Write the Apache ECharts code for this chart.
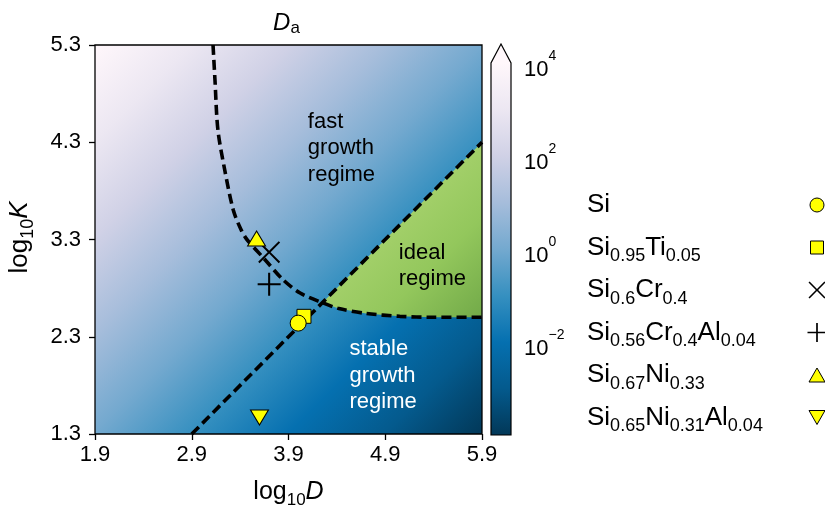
<!DOCTYPE html>
<html>
<head>
<meta charset="utf-8">
<script src="https://cdn.jsdelivr.net/npm/echarts@6/dist/echarts.min.js"></script>
<style>
  html, body { margin: 0; padding: 0; background: #fff; }
  #chart { width: 825px; height: 505px; }
</style>
</head>
<body>
<div id="chart"></div>
<script>
// ---- axes -------------------------------------------------------------
const dRange = [1.9, 5.9];
const kRange = [1.3, 5.3];
const logDTicks = [1.9, 2.9, 3.9, 4.9, 5.9];
const logKTicks = [1.3, 2.3, 3.3, 4.3, 5.3];

// ---- colour bar (log10 Da) --------------------------------------------
const cbarRange = [-4, 4];
const cbarExponents = [-2, 0, 2, 4];
// log10 Da at the top-left and bottom-right corners of the map
const fieldCorners = [4, -4];
// PuBu ramp, light (high Da) to dark (low Da)
const puBu = ['#fff7fb', '#ece7f2', '#d0d1e6', '#a6bddb', '#74a9cf',
              '#3690c0', '#0570b0', '#045a8d', '#023858'];
// shading of the ideal regime along the same diagonal
const idealShade = ['#a9d36f', '#93c75c', '#6aa344'];

// ---- regime boundaries --------------------------------------------------
const stabilityD = [2.9, 5.9];
const stabilityK = [1.3, 4.3];
const growthD = [3.12, 3.14, 3.17, 3.24, 3.33, 3.41, 3.47, 3.66, 3.84, 4.02, 4.25, 4.42, 4.70, 5.05, 5.39, 5.90];
const growthK = [5.30, 4.94, 4.43, 4.02, 3.60, 3.40, 3.30, 3.09, 2.89, 2.75, 2.65, 2.59, 2.54, 2.51, 2.50, 2.50];

// ---- materials ----------------------------------------------------------
const materialNames = ['Si', 'Si0.95Ti0.05', 'Si0.6Cr0.4', 'Si0.56Cr0.4Al0.04', 'Si0.67Ni0.33', 'Si0.65Ni0.31Al0.04'];
const materialD = [4.00, 4.06, 3.70, 3.70, 3.57, 3.60];
const materialK = [2.44, 2.51, 3.17, 2.84, 3.31, 1.47];

// ---- regime captions ----------------------------------------------------
const regimeText = ['fast\ngrowth\nregime', 'ideal\nregime', 'stable\ngrowth\nregime'];
const regimeD = [4.10, 5.04, 4.53];
const regimeK = [4.65, 3.30, 2.31];
const regimeColor = ['#000', '#000', '#fff'];

const FONT = '"Liberation Sans", Arial, Helvetica, sans-serif';

// marker outlines in a 20-unit box
const SHAPE_X = [[1.3, 0], [10, 8.7], [18.7, 0], [20, 1.3], [11.3, 10], [20, 18.7], [18.7, 20], [10, 11.3],
                 [1.3, 20], [0, 18.7], [8.7, 10], [0, 1.3]];
const SHAPE_PLUS = [[9.1, 0], [10.9, 0], [10.9, 9.1], [20, 9.1], [20, 10.9], [10.9, 10.9], [10.9, 20], [9.1, 20],
                    [9.1, 10.9], [0, 10.9], [0, 9.1], [9.1, 9.1]];
const SHAPE_UP = [[10, 0], [20, 16], [0, 16]];
const SHAPE_DOWN = [[0, 0], [20, 0], [10, 16]];

function toPath(pts) {
  return 'path://M' + pts.map(function (p) { return p[0] + ',' + p[1]; }).join('L') + 'Z';
}

const markerStyles = [
  { symbol: 'circle', size: 16, key: 14, fill: '#ffff00', z: 6 },
  { symbol: 'rect', size: 14, key: 13, fill: '#ffff00', z: 5 },
  { shape: SHAPE_X, size: 22, key: 17, fill: '#000', z: 5, noBorder: true },
  { shape: SHAPE_PLUS, size: 23, key: 19, fill: '#000', z: 5, noBorder: true },
  { shape: SHAPE_UP, size: [18, 15], key: [16, 14], fill: '#ffff00', z: 5 },
  { shape: SHAPE_DOWN, size: [18, 15], key: [16, 14], fill: '#ffff00', z: 5 }
];

// key layout (pixels)
const keyTextX = 587, keyIconX = 817, keyTop = 205, keyStep = 42.5;

// chemical formula -> rich text with subscripts
function toRich(name) {
  return name.replace(/([A-Z][a-z]?)([\d.]*)/g, function (m, el, num) {
    return '{n|' + el + '}' + (num ? '{s|' + num + '}' : '');
  });
}

// colour ramp from low to high value
const rampLowToHigh = puBu.slice().reverse();

function fieldStops() {
  const vTL = fieldCorners[0], vBR = fieldCorners[1];
  const n = rampLowToHigh.length;
  const stops = rampLowToHigh.map(function (c, i) {
    const v = cbarRange[0] + (cbarRange[1] - cbarRange[0]) * i / (n - 1);
    let off = (vTL - v) / (vTL - vBR);
    off = Math.max(0, Math.min(1, off));
    return { offset: off, color: c };
  });
  stops.sort(function (a, b) { return a.offset - b.offset; });
  return stops;
}

function cbarGradient() {
  const n = rampLowToHigh.length;
  return new echarts.graphic.LinearGradient(0, 1, 0, 0, rampLowToHigh.map(function (c, i) {
    return { offset: i / (n - 1), color: c };
  }));
}

// linear interpolation along the stability line
function stabilityAt(d) {
  const t = (d - stabilityD[0]) / (stabilityD[1] - stabilityD[0]);
  return stabilityK[0] + t * (stabilityK[1] - stabilityK[0]);
}

// polygon enclosing the ideal regime
function idealPolygon() {
  let cross = null, idx = 0;
  for (let i = 0; i < growthD.length - 1; i++) {
    const f0 = growthK[i] - stabilityAt(growthD[i]);
    const f1 = growthK[i + 1] - stabilityAt(growthD[i + 1]);
    if (f0 >= 0 && f1 < 0) {
      const t = f0 / (f0 - f1);
      const d = growthD[i] + t * (growthD[i + 1] - growthD[i]);
      cross = [d, growthK[i] + t * (growthK[i + 1] - growthK[i])];
      idx = i + 1;
      break;
    }
  }
  const pts = [cross, [stabilityD[1], stabilityK[1]]];
  for (let j = growthD.length - 1; j >= idx; j--) pts.push([growthD[j], growthK[j]]);
  return pts;
}

const dashStyle = { color: '#000', width: 3.6, type: [10, 5], cap: 'butt' };

function mapCorners(api) {
  return [api.coord([dRange[0], kRange[1]]), api.coord([dRange[1], kRange[0]])];
}

const series = [
  {
    type: 'custom', xAxisIndex: 0, yAxisIndex: 0, silent: true, z: 1,
    data: [[dRange[0], kRange[0]]],
    renderItem: function (params, api) {
      const c = mapCorners(api);
      return {
        type: 'rect',
        shape: { x: c[0][0], y: c[0][1], width: c[1][0] - c[0][0], height: c[1][1] - c[0][1] },
        style: { fill: new echarts.graphic.LinearGradient(0, 0, 1, 1, fieldStops()) }
      };
    }
  },
  {
    type: 'custom', xAxisIndex: 0, yAxisIndex: 0, silent: true, z: 2,
    data: [[dRange[0], kRange[0]]],
    renderItem: function (params, api) {
      const c = mapCorners(api);
      const grad = new echarts.graphic.LinearGradient(c[0][0], c[0][1], c[1][0], c[1][1], [
        { offset: 0.58, color: idealShade[0] },
        { offset: 0.72, color: idealShade[1] },
        { offset: 0.88, color: idealShade[2] }
      ], true);
      return {
        type: 'polygon',
        shape: { points: idealPolygon().map(function (p) { return api.coord(p); }) },
        style: { fill: grad }
      };
    }
  },
  {
    type: 'line', xAxisIndex: 0, yAxisIndex: 0, silent: true, z: 3,
    data: stabilityD.map(function (d, i) { return [d, stabilityK[i]]; }),
    symbol: 'none', lineStyle: dashStyle
  },
  {
    type: 'line', xAxisIndex: 0, yAxisIndex: 0, silent: true, z: 3,
    data: growthD.map(function (d, i) { return [d, growthK[i]]; }),
    symbol: 'none', smooth: 0.3, lineStyle: dashStyle
  }
];

materialNames.forEach(function (name, i) {
  const m = markerStyles[i];
  series.push({
    type: 'scatter', name: name, xAxisIndex: 0, yAxisIndex: 0, z: m.z,
    data: [[materialD[i], materialK[i]]],
    symbol: m.shape ? toPath(m.shape) : m.symbol, symbolSize: m.size,
    itemStyle: { color: m.fill, borderColor: '#000', borderWidth: m.noBorder ? 0 : 1, opacity: 1 },
    emphasis: { disabled: true }
  });
});

// colour bar with an extension triangle on top
series.push({
  type: 'custom', xAxisIndex: 1, yAxisIndex: 1, silent: true, clip: false, z: 2,
  data: [[0, cbarRange[0]]],
  renderItem: function (params, api) {
    const tl = api.coord([0, cbarRange[1]]);
    const br = api.coord([1, cbarRange[0]]);
    const apexH = 19;
    const apex = [(tl[0] + br[0]) / 2, tl[1] - apexH];
    return {
      type: 'group',
      children: [
        { type: 'rect', shape: { x: tl[0], y: tl[1], width: br[0] - tl[0], height: br[1] - tl[1] },
          style: { fill: cbarGradient() } },
        { type: 'polygon', shape: { points: [[tl[0], tl[1]], apex, [br[0], tl[1]]] },
          style: { fill: puBu[0] } },
        { type: 'polygon', shape: { points: [[tl[0], br[1]], [tl[0], tl[1]], apex, [br[0], tl[1]], [br[0], br[1]]] },
          style: { fill: 'none', stroke: '#000', lineWidth: 1.2 } }
      ]
    };
  }
});

// frame around the map
series.push({
  type: 'custom', xAxisIndex: 0, yAxisIndex: 0, silent: true, z: 10,
  data: [[dRange[0], kRange[0]]],
  renderItem: function (params, api) {
    const c = mapCorners(api);
    return {
      type: 'rect',
      shape: { x: c[0][0], y: c[0][1], width: c[1][0] - c[0][0], height: c[1][1] - c[0][1] },
      style: { fill: 'none', stroke: '#000', lineWidth: 1.3 }
    };
  }
});

function nameRich(size, sub) {
  return {
    t: { fontFamily: FONT, fontSize: size, lineHeight: size + 4, verticalAlign: 'top', color: '#000' },
    s: { fontFamily: FONT, fontSize: sub, verticalAlign: 'bottom', color: '#000' },
    i: { fontFamily: FONT, fontSize: size, lineHeight: size + 4, verticalAlign: 'top', fontStyle: 'italic', color: '#000' }
  };
}

const tickStyle = { color: '#000', width: 1.3 };

const option = {
  animation: false,
  backgroundColor: '#fff',
  textStyle: { fontFamily: FONT },
  grid: [
    { left: 95, top: 45, width: 387, height: 389, containLabel: false, outerBoundsMode: 'none' },
    { left: 491, top: 63, width: 20, height: 372, containLabel: false, outerBoundsMode: 'none' }
  ],
  xAxis: [
    {
      gridIndex: 0, type: 'value', min: dRange[0], max: dRange[1],
      axisLine: { show: false }, splitLine: { show: false },
      axisTick: { show: true, customValues: logDTicks, length: 6, lineStyle: tickStyle },
      axisLabel: { customValues: logDTicks, formatter: function (v) { return v.toFixed(1); },
                   color: '#000', fontSize: 22, margin: 10 },
      name: '{t|log}{s|10}{i|D}', nameLocation: 'middle', nameGap: 46,
      nameTextStyle: { rich: nameRich(25, 17) }
    },
    { gridIndex: 1, type: 'value', min: 0, max: 1, show: false }
  ],
  yAxis: [
    {
      gridIndex: 0, type: 'value', min: kRange[0], max: kRange[1],
      axisLine: { show: false }, splitLine: { show: false },
      axisTick: { show: true, customValues: logKTicks, length: 6, lineStyle: tickStyle },
      axisLabel: { customValues: logKTicks, formatter: function (v) { return v.toFixed(1); },
                   color: '#000', fontSize: 22, margin: 14 },
      name: '{t|log}{s|10}{i|K}', nameLocation: 'middle', nameGap: 58, nameRotate: 90,
      nameTextStyle: { rich: nameRich(26, 18), padding: [0, 0, 0, 4] }
    },
    {
      gridIndex: 1, type: 'value', min: cbarRange[0], max: cbarRange[1], position: 'right',
      axisLine: { show: false }, splitLine: { show: false },
      axisTick: { show: true, customValues: cbarExponents, length: 5, lineStyle: tickStyle },
      axisLabel: {
        customValues: cbarExponents, margin: 13, color: '#000', padding: [4, 0, 0, 0],
        formatter: function (v) { return '{b|10}{e|' + String(v).replace('-', '\u2212') + '}'; },
        rich: {
          b: { fontFamily: FONT, fontSize: 22, lineHeight: 31, verticalAlign: 'bottom', color: '#000' },
          e: { fontFamily: FONT, fontSize: 14, verticalAlign: 'top', color: '#000' }
        }
      }
    }
  ],
  series: series
};

const chart = echarts.init(document.getElementById('chart'), null, { renderer: 'canvas' });
chart.setOption(option);

// captions, title and key, anchored after layout
const toPx = function (p) { return chart.convertToPixel({ xAxisIndex: 0, yAxisIndex: 0 }, p); };
const graphics = regimeText.map(function (txt, i) {
  const p = toPx([regimeD[i], regimeK[i]]);
  return {
    type: 'text', x: p[0], y: p[1], z: 20, silent: true,
    style: { text: txt, fill: regimeColor[i], fontFamily: FONT, fontSize: 22,
             lineHeight: 26.5, align: 'left', verticalAlign: 'top' }
  };
});
const mid = toPx([(dRange[0] + dRange[1]) / 2, kRange[1]]);
graphics.push({
  type: 'text', x: mid[0] - 2, y: 11, z: 20, silent: true,
  style: {
    text: '{i|D}{s|a}', align: 'center', verticalAlign: 'top',
    rich: {
      i: { fontFamily: FONT, fontSize: 24, lineHeight: 26, verticalAlign: 'top', fontStyle: 'italic', fill: '#000' },
      s: { fontFamily: FONT, fontSize: 17, verticalAlign: 'bottom', fill: '#000' }
    }
  }
});

function keyIcon(m, cx, cy) {
  const sz = Array.isArray(m.key) ? m.key : [m.key, m.key];
  const style = { fill: m.fill, stroke: m.noBorder ? null : '#000', lineWidth: m.noBorder ? 0 : 1 };
  const x0 = cx - sz[0] / 2, y0 = cy - sz[1] / 2;
  if (m.symbol === 'circle') {
    return { type: 'circle', shape: { cx: cx, cy: cy, r: sz[0] / 2 }, style: style, silent: true, z: 20 };
  }
  if (m.symbol === 'rect') {
    return { type: 'rect', shape: { x: x0, y: y0, width: sz[0], height: sz[1] }, style: style, silent: true, z: 20 };
  }
  const maxX = Math.max.apply(null, m.shape.map(function (p) { return p[0]; }));
  const maxY = Math.max.apply(null, m.shape.map(function (p) { return p[1]; }));
  return {
    type: 'polygon', silent: true, z: 20,
    shape: { points: m.shape.map(function (p) { return [x0 + p[0] / maxX * sz[0], y0 + p[1] / maxY * sz[1]]; }) },
    style: style
  };
}

materialNames.forEach(function (name, i) {
  const cy = keyTop + keyStep * i;
  graphics.push({
    type: 'text', x: keyTextX, y: cy + 2.5, z: 20, silent: true,
    style: {
      text: toRich(name), align: 'left', verticalAlign: 'middle',
      rich: {
        n: { fontFamily: FONT, fontSize: 26, lineHeight: 31, verticalAlign: 'top', fill: '#000' },
        s: { fontFamily: FONT, fontSize: 18, verticalAlign: 'bottom', fill: '#000' }
      }
    }
  });
  graphics.push(keyIcon(markerStyles[i], keyIconX, cy));
});

chart.setOption({ graphic: graphics });
</script>
</body>
</html>
